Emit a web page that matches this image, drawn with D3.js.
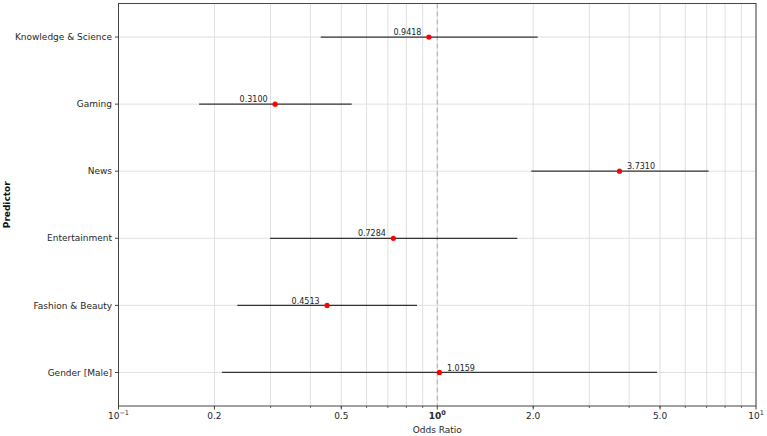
<!DOCTYPE html>
<html><head><meta charset="utf-8">
<script src="https://cdn.jsdelivr.net/npm/d3@7"></script>
<style>body{margin:0;background:#fff;} svg{display:block;font-family:"DejaVu Sans",sans-serif;}</style>
</head><body><svg id="c" width="767" height="436"></svg>
<script>
const categories = ["Knowledge & Science","Gaming","News","Entertainment","Fashion & Beauty","Gender [Male]"];
const oddsRatio = [0.9418, 0.3100, 3.7310, 0.7284, 0.4513, 1.0159];
const ciLow = [0.431, 0.179, 1.973, 0.299, 0.236, 0.211];
const ciHigh = [2.066, 0.539, 7.10, 1.783, 0.864, 4.89];
const labeledTicks = [0.1, 0.2, 0.5, 1, 2, 5, 10];
const tickLabels = ["10|-1", "0.2", "0.5", "10|0", "2.0", "5.0", "10|1"];

const W = 767, H = 436;
const m = {l: 118.5, t: 3.5, r: 11, b: 30};
const svg = d3.select("#c");
const x = d3.scaleLog().domain([0.1, 10]).range([m.l, W - m.r]);
const y = d3.scaleLinear().domain([-0.5, categories.length - 0.5]).range([m.t, H - m.b]);
const rowY = i => y(i);

const minor = [];
for (const d of [0.1, 1]) for (let k = 2; k <= 9; k++) minor.push(d * k);
const allGrid = [0.1, ...minor, 1, 10];

// vertical grid
svg.append("g").selectAll("line").data(allGrid).join("line")
  .attr("x1", d => x(d)).attr("x2", d => x(d))
  .attr("y1", m.t).attr("y2", H - m.b)
  .attr("stroke", "#dcdcdc").attr("stroke-width", 0.9);
// horizontal grid
svg.append("g").selectAll("line").data(categories).join("line")
  .attr("x1", m.l).attr("x2", W - m.r)
  .attr("y1", (d, i) => rowY(i)).attr("y2", (d, i) => rowY(i))
  .attr("stroke", "#dcdcdc").attr("stroke-width", 0.9);

// reference line at 1
svg.append("line").attr("x1", x(1)).attr("x2", x(1)).attr("y1", m.t).attr("y2", H - m.b)
  .attr("stroke", "#aaaaaa").attr("stroke-width", 1).attr("stroke-dasharray", "5,3");

// CI lines
svg.append("g").selectAll("line").data(categories).join("line")
  .attr("x1", (d, i) => x(ciLow[i])).attr("x2", (d, i) => x(ciHigh[i]))
  .attr("y1", (d, i) => rowY(i)).attr("y2", (d, i) => rowY(i))
  .attr("stroke", "#333").attr("stroke-width", 1.3);
// points
svg.append("g").selectAll("circle").data(categories).join("circle")
  .attr("cx", (d, i) => x(oddsRatio[i])).attr("cy", (d, i) => rowY(i))
  .attr("r", 2.6).attr("fill", "#ff0000");
// value labels
svg.append("g").selectAll("text").data(categories).join("text")
  .attr("x", (d, i) => oddsRatio[i] < 1 ? x(oddsRatio[i]) - 7.5 : x(oddsRatio[i]) + 7.5)
  .attr("y", (d, i) => rowY(i) - 1.8)
  .attr("text-anchor", (d, i) => oddsRatio[i] < 1 ? "end" : "start")
  .attr("font-size", 8).attr("fill", "#222")
  .text((d, i) => oddsRatio[i].toFixed(4));

// frame
svg.append("rect").attr("x", m.l).attr("y", m.t).attr("width", W - m.r - m.l).attr("height", H - m.b - m.t)
  .attr("fill", "none").attr("stroke", "#444").attr("stroke-width", 1);

// y axis ticks + labels
const yg = svg.append("g");
categories.forEach((c, i) => {
  yg.append("line").attr("x1", m.l - 3.5).attr("x2", m.l).attr("y1", rowY(i)).attr("y2", rowY(i)).attr("stroke", "#444");
  yg.append("text").attr("x", m.l - 6.5).attr("y", rowY(i) + 3.2).attr("text-anchor", "end")
    .attr("font-size", 9).attr("fill", "#262626").text(c);
});

// x axis ticks
const xg = svg.append("g");
minor.forEach(d => xg.append("line").attr("x1", x(d)).attr("x2", x(d)).attr("y1", H - m.b).attr("y2", H - m.b + 2).attr("stroke", "#444").attr("stroke-width", 0.8));
labeledTicks.forEach((d, i) => {
  xg.append("line").attr("x1", x(d)).attr("x2", x(d)).attr("y1", H - m.b).attr("y2", H - m.b + 3.5).attr("stroke", "#444");
  const t = xg.append("text").attr("x", x(d)).attr("y", H - m.b + 13).attr("text-anchor", "middle")
    .attr("font-size", 9).attr("fill", "#262626");
  const lab = tickLabels[i];
  if (lab.includes("|")) {
    const [b, e] = lab.split("|");
    if (d === 1) t.attr("font-weight", "bold");
    t.append("tspan").text(b);
    t.append("tspan").attr("dy", -4).attr("font-size", 6.5).text(e.replace("-", "\u2212"));
  } else t.text(lab);
});

svg.append("text").attr("x", (m.l + W - m.r) / 2).attr("y", H - 3).attr("text-anchor", "middle")
  .attr("font-size", 9).attr("fill", "#262626").text("Odds Ratio");
svg.append("text").attr("transform", `translate(10,${(m.t + H - m.b) / 2}) rotate(-90)`)
  .attr("text-anchor", "middle").attr("font-size", 9).attr("font-weight", "bold").attr("fill", "#111").text("Predictor");
</script></body></html>
